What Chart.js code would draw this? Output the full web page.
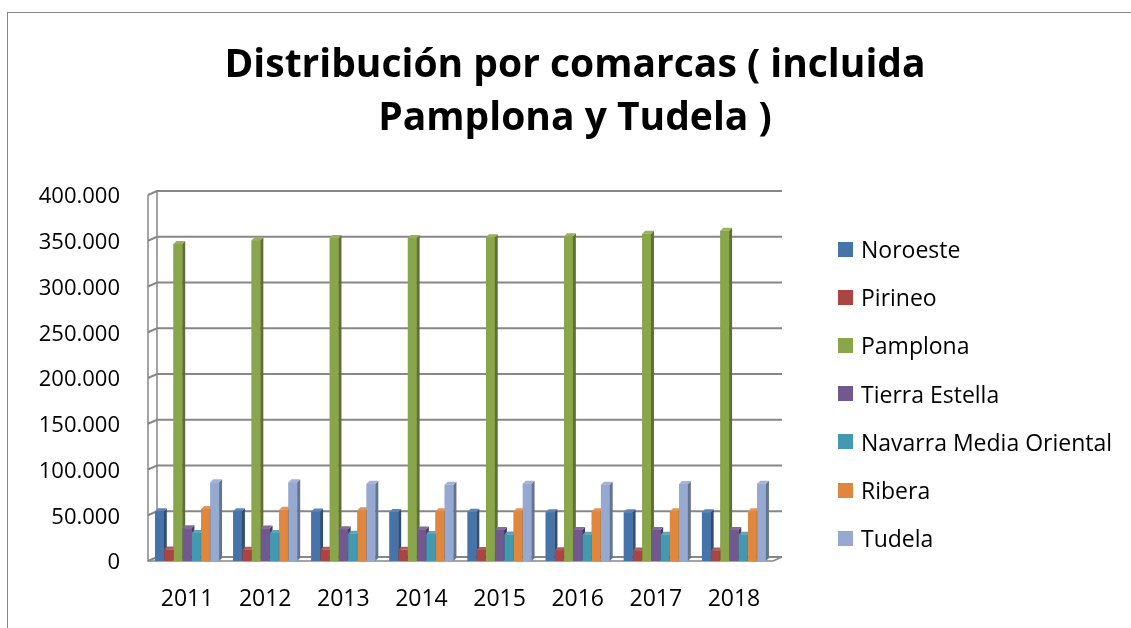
<!DOCTYPE html>
<html>
<head>
<meta charset="utf-8">
<script src="https://cdn.jsdelivr.net/npm/chart.js@4"></script>
<style>
  body{margin:0;background:#fff;}
  #wrap{position:relative;width:1131px;height:628px;overflow:hidden;}
  #frame{position:absolute;left:7px;top:12px;width:1130px;height:620px;border-top:1.5px solid #868686;border-left:1.5px solid #868686;}
  #title{position:absolute;left:0;top:35px;width:1150px;text-align:center;font-family:"Open Sans",sans-serif;font-weight:bold;font-size:39px;line-height:53px;color:#000;}
  #legend{position:absolute;left:838px;top:225px;font-family:"Open Sans",sans-serif;font-size:23px;color:#000;}
  .item{height:48.2px;display:flex;align-items:center;white-space:nowrap;}
  .sw{width:15px;height:15px;margin-right:8px;flex:none;}
</style>
</head>
<body>
<div id="wrap">
  <div id="frame"></div>
  <canvas id="c" width="1131" height="628"></canvas>
  <div id="title"></div>
  <div id="legend"></div>
</div>
<script>
// data
const years = ['2011','2012','2013','2014','2015','2016','2017','2018'];
const seriesNames = ['Noroeste','Pirineo','Pamplona','Tierra Estella','Navarra Media Oriental','Ribera','Tudela'];
const noroeste      = [54300, 54300, 54200, 53500, 53800, 53300, 53200, 53200];
const pirineo       = [12500, 12400, 12300, 12200, 12100, 11800, 11600, 11500];
const pamplona      = [346400, 350500, 353000, 353000, 353800, 354900, 357700, 361000];
const tierraEstella = [35700, 35600, 34700, 34500, 33900, 33900, 33800, 33800];
const navarraMedia  = [30600, 30500, 29900, 29500, 28900, 28800, 28800, 28800];
const ribera        = [56800, 56100, 55400, 54300, 54300, 54400, 54300, 54400];
const tudela        = [86000, 86000, 84500, 83400, 84500, 83400, 84200, 84500];
const colors = ['#4674AA','#AA4543','#8AA64B','#71588F','#4399B0','#E0873D','#95A9D1'];
const titleLines = ['Distribución por comarcas ( incluida','Pamplona y Tudela )'];

const allValues = [noroeste, pirineo, pamplona, tierraEstella, navarraMedia, ribera, tudela];

// helper: shade a hex colour
function shade(hex, f){
  const n = parseInt(hex.slice(1),16);
  let r=(n>>16)&255, g=(n>>8)&255, b=n&255;
  const c = v => Math.max(0, Math.min(255, Math.round(f<1 ? v*f : v+(255-v)*(f-1))));
  return 'rgb('+c(r)+','+c(g)+','+c(b)+')';
}
const fmt = v => String(v).replace(/\B(?=(\d{3})+(?!\d))/g,'.');

// 3D look: back wall, floor, bar sides
const DX = 9, DY = -4;   // wall depth
const BX = 3, BY = -3;   // bar depth
const fake3d = {
  id:'fake3d',
  beforeDatasetsDraw(chart){
    const {ctx, chartArea:a, scales:{y}} = chart;
    ctx.save();
    ctx.strokeStyle = '#878787';
    ctx.lineWidth = 2;
    y.ticks.forEach(t=>{
      const py = y.getPixelForValue(t.value);
      ctx.beginPath();
      ctx.moveTo(a.left, py);
      ctx.lineTo(a.left+DX, py+DY);
      ctx.lineTo(a.right+DX, py+DY);
      ctx.stroke();
    });
    ctx.lineWidth = 1.5;
    ctx.beginPath();
    ctx.moveTo(a.left, y.getPixelForValue(y.max));
    ctx.lineTo(a.left, a.bottom);
    ctx.lineTo(a.right, a.bottom);
    ctx.lineTo(a.right+DX, a.bottom+DY);
    ctx.moveTo(a.left+DX, y.getPixelForValue(y.max)+DY);
    ctx.lineTo(a.left+DX, a.bottom+DY);
    ctx.stroke();
    ctx.restore();
  },
  afterDatasetsDraw(chart){
    const ctx = chart.ctx;
    ctx.save();
    chart.data.datasets.forEach((ds, i)=>{
      const meta = chart.getDatasetMeta(i);
      meta.data.forEach(bar=>{
        const {x, y, base, width} = bar.getProps(['x','y','base','width'], true);
        const l = x - width/2, r = x + width/2;
        ctx.fillStyle = colors[i];
        ctx.fillRect(l, y, width, base-y);
        // side
        ctx.fillStyle = shade(colors[i], 0.68);
        ctx.beginPath();
        ctx.moveTo(r, y); ctx.lineTo(r+BX, y+BY); ctx.lineTo(r+BX, base+BY); ctx.lineTo(r, base);
        ctx.closePath(); ctx.fill();
        // top
        ctx.fillStyle = shade(colors[i], 1.12);
        ctx.beginPath();
        ctx.moveTo(l, y); ctx.lineTo(l+BX, y+BY); ctx.lineTo(r+BX, y+BY); ctx.lineTo(r, y);
        ctx.closePath(); ctx.fill();
      });
    });
    ctx.restore();
  }
};

const datasets = seriesNames.map((name, i)=>({
  label: name,
  data: allValues[i],
  backgroundColor: colors[i],
  borderWidth: 0,
  categoryPercentage: 0.825,
  barPercentage: 0.95
}));

new Chart(document.getElementById('c'), {
  type:'bar',
  data:{labels: years, datasets},
  options:{
    responsive:false,
    animation:false,
    layout:{padding:{left:8, right:358, top:195, bottom:0}},
    plugins:{
      legend:{display:false},
      tooltip:{enabled:false},
      title:{display:false}
    },
    scales:{
      x:{
        grid:{display:false},
        border:{display:false},
        ticks:{color:'#000', padding:17, font:{family:'"Open Sans", sans-serif', size:23}},
        afterFit(s){ s.height = 67; }
      },
      y:{
        min:0, max:400000,
        grid:{display:false, drawTicks:false},
        border:{display:false},
        ticks:{stepSize:50000, color:'#000', padding:28, labelOffset:2,
               font:{family:'"Open Sans", sans-serif', size:22},
               callback:v=>fmt(v)},
        afterFit(s){ s.width = 140; }
      }
    }
  },
  plugins:[fake3d]
});

// title and legend
document.getElementById('title').innerHTML = titleLines.join('<br>');
document.getElementById('legend').innerHTML = seriesNames.map((n,i)=>
  `<div class="item"><span class="sw" style="background:${colors[i]}"></span>${n}</div>`).join('');
</script>
</body>
</html>
